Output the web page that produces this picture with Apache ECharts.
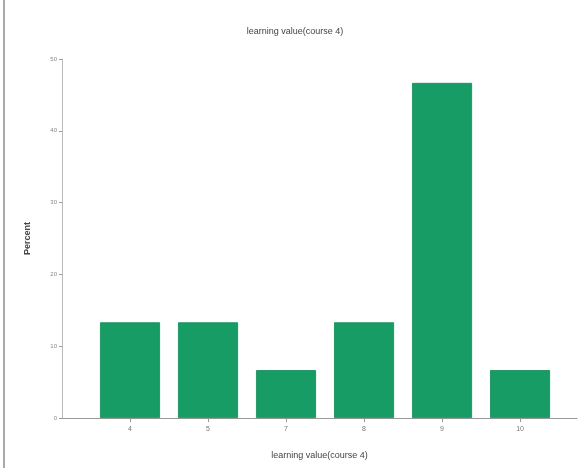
<!DOCTYPE html>
<html><head><meta charset="utf-8">
<script src="https://cdn.jsdelivr.net/npm/echarts@6/dist/echarts.min.js"></script>
<style>html,body{margin:0;padding:0;background:#fff}#c{width:588px;height:468px}</style>
</head><body><div id="c"></div>
<script>
var categories = ['4', '5', '7', '8', '9', '10'];
var percents = [13.33, 13.33, 6.67, 13.33, 46.67, 6.67];
var yTicks = [0, 10, 20, 30, 40, 50];
var titleText = 'learning value(course 4)';
var xName = 'learning value(course 4)';
var yName = 'Percent';

var chart = echarts.init(document.getElementById('c'), null, {renderer: 'canvas'});
var idx = categories.map(function (c, i) { return i; });
chart.setOption({
  animation: false,
  backgroundColor: '#fff',
  title: {text: titleText, left: 290, top: 22, textAlign: 'center',
    textStyle: {fontFamily: 'Liberation Sans', fontSize: 9, fontWeight: 'normal', color: '#444'}},
  grid: {left: 62, right: 11, top: 59, bottom: 50},
  xAxis: {
    type: 'value', min: -0.872, max: 5.73,
    name: xName, nameLocation: 'middle', nameGap: 33,
    nameTextStyle: {fontFamily: 'Liberation Sans', fontSize: 9, color: '#444'},
    axisLine: {show: true, onZero: false, lineStyle: {color: '#999', width: 1}},
    axisTick: {show: true, length: 4, lineStyle: {color: '#999'}, customValues: idx},
    axisLabel: {fontFamily: 'Liberation Sans', fontSize: 7, color: '#777', margin: 8, customValues: idx,
      formatter: function (v) { return categories[Math.round(v)]; }},
    splitLine: {show: false}
  },
  yAxis: {
    type: 'value', min: 0, max: 50, interval: 10,
    name: yName, nameLocation: 'middle', nameGap: 30, nameRotate: 90,
    nameTextStyle: {fontFamily: 'Liberation Sans', fontSize: 9, color: '#444', fontWeight: 'bold'},
    axisLine: {show: true, onZero: false, lineStyle: {color: '#bbb', width: 1}},
    axisTick: {show: true, length: 3, lineStyle: {color: '#999'}},
    axisLabel: {fontFamily: 'Liberation Sans', fontSize: 6, color: '#888', margin: 5,
      formatter: function (v) { return yTicks.indexOf(v) >= 0 ? String(v) : ''; }},
    splitLine: {show: false}
  },
  series: [{
    type: 'bar',
    barWidth: 60,
    data: percents.map(function (p, i) { return [i, p]; }),
    itemStyle: {color: '#169c64', borderColor: '#0f8a56', borderWidth: 0.8}
  }],
  graphic: [
    {type: 'rect', shape: {x: 3, y: 0, width: 2, height: 468}, style: {fill: '#aaa'}, silent: true}
  ]
});
</script></body></html>
